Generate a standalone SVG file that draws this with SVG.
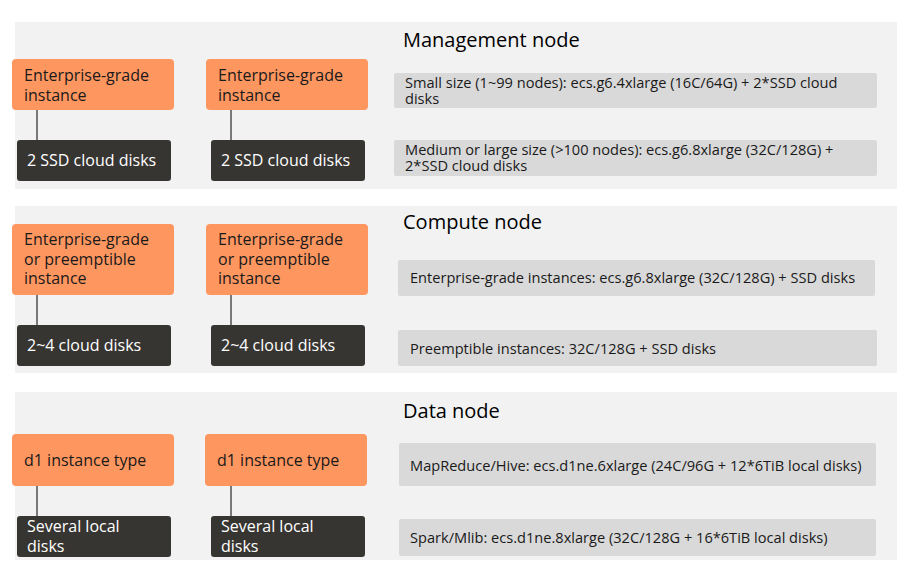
<svg xmlns="http://www.w3.org/2000/svg" width="913" height="585" viewBox="0 0 913 585">
<style>
text{font-family:"Open Sans","Noto Sans",sans-serif}
.panel{fill:#f2f2f2}
.title{font-size:20px;fill:#000}
.or{fill:#fe9660}
.dk{fill:#373531}
.gr{fill:#d9d9d9}
.ot{font-size:16px;fill:#1a1a1a}
.dt{font-size:16px;fill:#fff}
.gt{font-size:14.6px;fill:#1a1a1a}
.ln{stroke:#000;stroke-width:1}
</style>
<rect width="913" height="585" fill="#fff"/>
<rect class="panel" x="15" y="22" width="882" height="167"/>
<rect class="panel" x="15" y="206" width="882" height="167"/>
<rect class="panel" x="15" y="392" width="882" height="168"/>
<text class="title" x="403" y="47">Management node</text>
<text class="title" x="403" y="229">Compute node</text>
<text class="title" x="403" y="418">Data node</text>
<g id="connectors">
<line class="ln" x1="37" y1="110" x2="37" y2="140"/>
<line class="ln" x1="231" y1="110" x2="231" y2="140"/>
<line class="ln" x1="37" y1="295" x2="37" y2="325"/>
<line class="ln" x1="231" y1="295" x2="231" y2="325"/>
<line class="ln" x1="37" y1="486" x2="37" y2="516"/>
<line class="ln" x1="231" y1="486" x2="231" y2="516"/>
</g>
<g id="m-e1"><rect class="or" x="12" y="59" width="162" height="51" rx="4"/><text class="ot" x="24" y="81">Enterprise-grade</text><text class="ot" x="24" y="101">instance</text></g>
<g id="m-e2"><rect class="or" x="206" y="59" width="162" height="51" rx="4"/><text class="ot" x="218" y="81">Enterprise-grade</text><text class="ot" x="218" y="101">instance</text></g>
<g id="m-d1"><rect class="dk" x="17" y="140" width="154" height="41" rx="3"/><text class="dt" x="27" y="166">2 SSD cloud disks</text></g>
<g id="m-d2"><rect class="dk" x="211" y="140" width="154" height="41" rx="3"/><text class="dt" x="221" y="166">2 SSD cloud disks</text></g>
<g id="m-g1"><rect class="gr" x="394" y="73" width="483" height="35" rx="2"/><text class="gt" x="405" y="88">Small size (1~99 nodes): ecs.g6.4xlarge (16C/64G) + 2*SSD cloud</text><text class="gt" x="405" y="104">disks</text></g>
<g id="m-g2"><rect class="gr" x="394" y="140" width="483" height="36" rx="2"/><text class="gt" x="405" y="155">Medium or large size (&gt;100 nodes): ecs.g6.8xlarge (32C/128G) +</text><text class="gt" x="405" y="171">2*SSD cloud disks</text></g>
<g id="c-e1"><rect class="or" x="12" y="224" width="162" height="71" rx="4"/><text class="ot" x="24" y="245">Enterprise-grade</text><text class="ot" x="24" y="265">or preemptible</text><text class="ot" x="24" y="284">instance</text></g>
<g id="c-e2"><rect class="or" x="206" y="224" width="162" height="71" rx="4"/><text class="ot" x="218" y="245">Enterprise-grade</text><text class="ot" x="218" y="265">or preemptible</text><text class="ot" x="218" y="284">instance</text></g>
<g id="c-d1"><rect class="dk" x="17" y="325" width="154" height="41" rx="3"/><text class="dt" x="27" y="351">2~4 cloud disks</text></g>
<g id="c-d2"><rect class="dk" x="211" y="325" width="154" height="41" rx="3"/><text class="dt" x="221" y="351">2~4 cloud disks</text></g>
<g id="c-g1"><rect class="gr" x="398" y="260" width="477" height="36" rx="2"/><text class="gt" x="410" y="283">Enterprise-grade instances: ecs.g6.8xlarge (32C/128G) + SSD disks</text></g>
<g id="c-g2"><rect class="gr" x="398" y="330" width="479" height="36" rx="2"/><text class="gt" x="410" y="354">Preemptible instances: 32C/128G + SSD disks</text></g>
<g id="d-e1"><rect class="or" x="12" y="434" width="162" height="52" rx="4"/><text class="ot" x="24" y="466">d1 instance type</text></g>
<g id="d-e2"><rect class="or" x="205" y="434" width="162" height="52" rx="4"/><text class="ot" x="217" y="466">d1 instance type</text></g>
<g id="d-d1"><rect class="dk" x="17" y="516" width="154" height="41" rx="3"/><text class="dt" x="27" y="532">Several local</text><text class="dt" x="27" y="552">disks</text></g>
<g id="d-d2"><rect class="dk" x="211" y="516" width="154" height="41" rx="3"/><text class="dt" x="221" y="532">Several local</text><text class="dt" x="221" y="552">disks</text></g>
<g id="d-g1"><rect class="gr" x="399" y="443" width="477" height="43" rx="2"/><text class="gt" x="410" y="471">MapReduce/Hive: ecs.d1ne.6xlarge (24C/96G + 12*6TiB local disks)</text></g>
<g id="d-g2"><rect class="gr" x="399" y="519" width="477" height="37" rx="2"/><text class="gt" x="410" y="543">Spark/Mlib: ecs.d1ne.8xlarge (32C/128G + 16*6TiB local disks)</text></g>
</svg>
